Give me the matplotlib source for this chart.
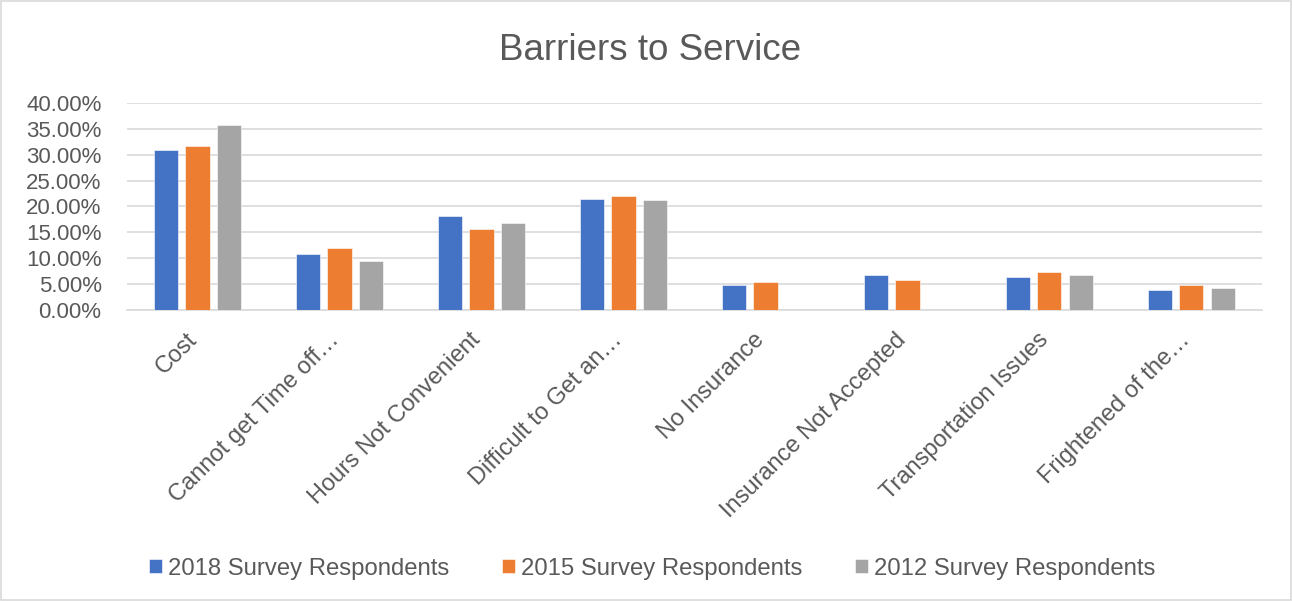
import numpy as np
import matplotlib
matplotlib.use('Agg')
import matplotlib.pyplot as plt
import matplotlib.transforms as mtransforms
from matplotlib.ticker import PercentFormatter
from matplotlib.patches import Rectangle

plt.rcParams['font.family'] = ['Liberation Sans', 'DejaVu Sans']

categories = ['Cost', 'Cannot get Time off…', 'Hours Not Convenient',
              'Difficult to Get an…', 'No Insurance', 'Insurance Not Accepted',
              'Transportation Issues', 'Frightened of the…']
series_names = ['2018 Survey Respondents', '2015 Survey Respondents',
                '2012 Survey Respondents']
vals_2018 = [30.8, 10.8, 18.1, 21.5, 4.8, 6.8, 6.4, 3.9]
vals_2015 = [31.6, 12.0, 15.6, 22.1, 5.5, 5.9, 7.4, 4.8]
vals_2012 = [35.8, 9.5, 16.9, 21.2, np.nan, np.nan, 6.7, 4.3]
colors = ['#4472C4', '#ED7D31', '#A5A5A5']
txt = '#595959'

fig = plt.figure(figsize=(12.92, 6.01), dpi=100)
fig.patches.append(Rectangle((0.001, 0.001), 0.998, 0.997, transform=fig.transFigure,
                             fill=False, edgecolor='#d9d9d9', linewidth=1.2))
ax = fig.add_axes([0.098, 0.484, 0.879, 0.345])

x = np.arange(len(categories))
w = 0.171
step = 0.223
for i, (vals, c, name) in enumerate(zip([vals_2018, vals_2015, vals_2012], colors, series_names)):
    ax.bar(x + (i - 1) * step, vals, width=w, color=c, label=name,
           edgecolor='white', linewidth=0.4, zorder=3)

ax.set_xlim(-0.5, len(categories) - 0.5)
ax.set_ylim(0, 40)
ax.set_yticks(np.arange(0, 41, 5))
ax.yaxis.set_major_formatter(PercentFormatter(decimals=2))
ax.grid(axis='y', color='#d9d9d9', linewidth=1.2, zorder=0)
for s in ['top', 'right', 'left']:
    ax.spines[s].set_visible(False)
ax.spines['bottom'].set_color('#d9d9d9')
ax.spines['bottom'].set_linewidth(1.2)
ax.tick_params(axis='y', length=0, pad=18, labelsize=16, labelcolor=txt)
ax.tick_params(axis='x', length=0, pad=13.5, labelsize=17, labelcolor=txt)
ax.set_xticks(x)
ax.set_xticklabels(categories, rotation=45, ha='right', rotation_mode='anchor')
# nudge the rotated labels a bit to the left, like the original
shift = mtransforms.ScaledTranslation(-0.12, 0, fig.dpi_scale_trans)
for lbl in ax.get_xticklabels():
    lbl.set_transform(lbl.get_transform() + shift)

fig.suptitle('Barriers to Service', x=0.503, y=0.945, fontsize=26.5, color=txt)

fig.legend(loc='lower center', bbox_to_anchor=(0.505, 0.0), ncol=3, frameon=False,
           fontsize=17.2, labelcolor=txt, handlelength=0.55, handleheight=0.55,
           handletextpad=0.25, columnspacing=2.2)

fig.savefig('out.png', dpi=100)
